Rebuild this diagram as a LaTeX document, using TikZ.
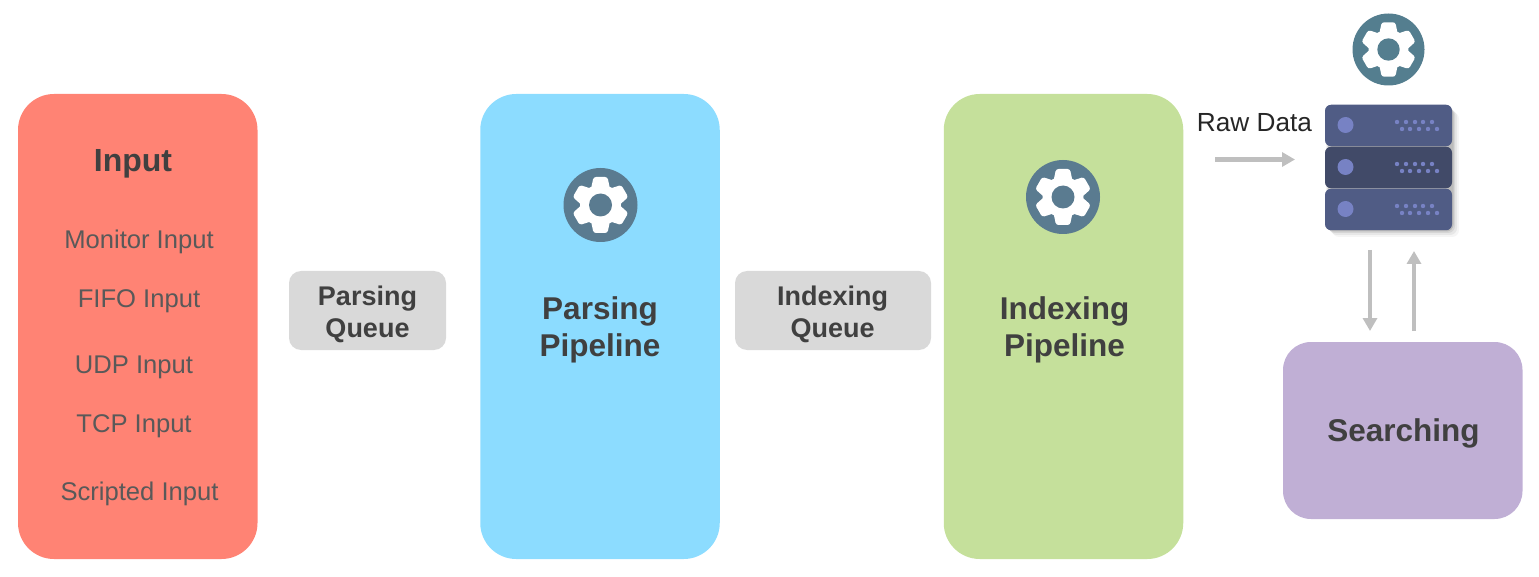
\documentclass[tikz,border=0pt]{standalone}
\usepackage{fontspec}
\setmainfont{Liberation Sans}
\usetikzlibrary{arrows.meta}
\definecolor{cinput}{HTML}{FF8374}
\definecolor{cparse}{HTML}{8CDCFF}
\definecolor{cindex}{HTML}{C5E09B}
\definecolor{csearch}{HTML}{C0AFD5}
\definecolor{cqueue}{HTML}{D9D9D9}
\definecolor{cgear}{HTML}{5A7B90}
\definecolor{cgeartop}{HTML}{547E8F}
\definecolor{carrow}{HTML}{BFBFBF}
\definecolor{csrv}{HTML}{505C85}
\definecolor{csrvd}{HTML}{414A68}
\definecolor{cdot}{HTML}{7782C4}
\definecolor{ctxt}{HTML}{404040}
\definecolor{citem}{HTML}{595959}
\tikzset{
  panel/.style={rounded corners=36pt,minimum width=239.5pt,minimum height=465pt,inner sep=0pt,outer sep=0pt},
  queuebox/.style={fill=cqueue,rounded corners=12pt,minimum height=79pt,inner sep=0pt,outer sep=0pt},
  itemtext/.style={text=citem,font=\fontsize{25.6pt}{30pt}\selectfont,inner sep=0pt,anchor=center},
  headtext/.style={text=ctxt,font=\bfseries\fontsize{31.5pt}{37pt}\selectfont,align=center,inner sep=0pt},
  queuetext/.style={text=ctxt,font=\bfseries\fontsize{27pt}{32pt}\selectfont,align=center,inner sep=0pt},
  flow/.style={draw=carrow,line width=4.2pt,-{Triangle[length=13pt,width=14pt]}},
  srvbox/.style={rounded corners=6pt,minimum width=127pt,minimum height=41.5pt,inner sep=0pt,outer sep=0pt},
}
% \gearicon{name}{x}{y}{radius}{colour}
\newcommand{\gearicon}[5]{%
  \node[circle,fill=#5,minimum size=#4*2pt,inner sep=0pt] (#1) at (#2,#3) {};
  \begin{scope}[shift={(#2,#3)},scale=#4/37]
    \fill[white] (0,0) circle (20.5);
    \foreach \a in {0,60,...,300}{
      \fill[white,rotate=\a,rounded corners=2.5pt] (-9.5,-16) -- (-7,-28) -- (7,-28) -- (9.5,-16) -- cycle;
    }
    \fill[#5] (0,0) circle (11.5);
  \end{scope}
}
% \srvunit{name}{centre y}{fill}
\newcommand{\srvunit}[3]{%
  \node[srvbox,fill=#3] (#1) at (1388.5,#2) {};
  \fill[cdot] (1345.5,#2-0.5) circle (8);
  \foreach \px in {1397,1406,1415,1423,1432}{\fill[cdot] (\px,#2-3.5) circle (2.2);}
  \foreach \px in {1402,1410,1419,1428,1437}{\fill[cdot] (\px,#2+3.5) circle (2.2);}
}
\begin{document}
\begin{tikzpicture}[x=1pt,y=-1pt]
\useasboundingbox (0,0) rectangle (1539,577);
% panels
\node[panel,fill=cinput] (input) at (137.75,326.5) {};
\node[panel,fill=cparse] (parse) at (600,326.5) {};
\node[panel,fill=cindex] (index) at (1063.5,326.5) {};
\node[fill=csearch,rounded corners=28pt,minimum width=239.5pt,minimum height=177pt,inner sep=0pt,outer sep=0pt] (search) at (1402.75,430.5) {};
\node[queuebox,minimum width=157pt] (pq) at (367.5,310.5) {};
\node[queuebox,minimum width=196pt] (iq) at (833,310.5) {};
% input text
\node[headtext,font=\bfseries\fontsize{32pt}{37pt}\selectfont] (t0) at (133,164) {Input};
\node[itemtext] (t1) at (139,242) {Monitor Input};
\node[itemtext] (t2) at (139,301) {FIFO Input};
\node[itemtext] (t3) at (134,367) {UDP Input};
\node[itemtext] (t4) at (134,426) {TCP Input};
\node[itemtext] (t5) at (139.5,493.5) {Scripted Input};
% queue text
\node[queuetext] (pqt) at (367.5,314) {Parsing\\Queue};
\node[queuetext] (iqt) at (832.5,314) {Indexing\\Queue};
% main text
\node[headtext] (pt) at (600,330) {Parsing\\Pipeline};
\node[headtext] (it) at (1064.5,330) {Indexing\\Pipeline};
\node[headtext] (st) at (1403.5,433) {Searching};
\node[text=black!85,font=\fontsize{26.2pt}{30pt}\selectfont,inner sep=0pt] (raw) at (1254.5,122.5) {Raw Data};
% gears
\gearicon{g1}{600.5}{205}{37}{cgear}
\gearicon{g2}{1063}{197}{37}{cgear}
\gearicon{g3}{1388.5}{49.5}{36}{cgeartop}
% server shadow
\foreach \o/\op in {7/0.04,5/0.06,3/0.08,1.5/0.12}{
  \fill[black,opacity=\op,rounded corners=7pt] (1325+\o,105+\o) rectangle (1452+\o,230+\o);
}
\srvunit{s1}{125.5}{csrv}
\srvunit{s3}{209.5}{csrv}
\srvunit{s2}{167.5}{csrvd}
% arrows
\coordinate (ra) at (1215,159.5);
\coordinate (rb) at (1295,159.5);
\coordinate (da) at (1370,250);
\coordinate (db) at (1370,331);
\coordinate (ua) at (1414,331);
\coordinate (ub) at (1414,251);
\draw[flow] (ra) -- (rb);
\draw[flow] (da) -- (db);
\draw[flow] (ua) -- (ub);
\end{tikzpicture}
\end{document}
